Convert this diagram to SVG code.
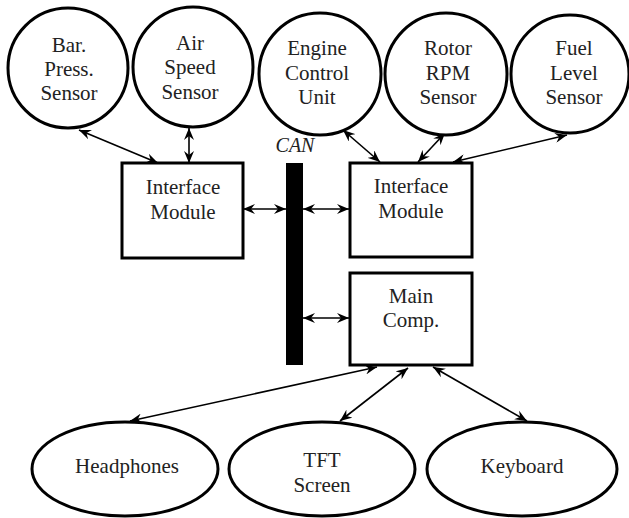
<svg xmlns="http://www.w3.org/2000/svg" width="629" height="518" viewBox="0 0 629 518">
<style>
.n{fill:#fff;stroke:#000;stroke-width:3}
text{font-family:'Liberation Serif','DejaVu Serif',serif;font-size:21px;fill:#222;text-anchor:middle}
.c{stroke:#000;stroke-width:1.6;fill:none;marker-start:url(#a);marker-end:url(#a)}
</style>
<defs>
<marker id="a" viewBox="0 0 12 10" refX="12" refY="5" markerWidth="12" markerHeight="10" markerUnits="userSpaceOnUse" orient="auto-start-reverse">
<path d="M0,0 L12,5 L0,10 L4,5 z" fill="#000"/>
</marker>
</defs>
<rect width="629" height="518" fill="#fff"/>
<g id="connectors">
<line class="c" x1="79" y1="130" x2="158" y2="163"/>
<line class="c" x1="189" y1="128" x2="189" y2="163"/>
<line class="c" x1="343" y1="130" x2="380" y2="162"/>
<line class="c" x1="445" y1="133" x2="418" y2="162"/>
<line class="c" x1="567" y1="135" x2="453" y2="162"/>
<line class="c" x1="243" y1="209" x2="286" y2="209"/>
<line class="c" x1="303" y1="209" x2="349" y2="209"/>
<line class="c" x1="303" y1="318" x2="349" y2="318"/>
<line class="c" x1="377" y1="367" x2="130" y2="421"/>
<line class="c" x1="408" y1="368" x2="340" y2="421"/>
<line class="c" x1="433" y1="367" x2="527" y2="421"/>
</g>
<g id="bar-press-sensor">
<circle class="n" cx="68" cy="68" r="60"/>
<text x="69" y="52">Bar.</text>
<text x="69" y="76">Press.</text>
<text x="69" y="100">Sensor</text>
</g>
<g id="air-speed-sensor">
<circle class="n" cx="193" cy="67" r="60"/>
<text x="190" y="50">Air</text>
<text x="190" y="74">Speed</text>
<text x="190" y="99">Sensor</text>
</g>
<g id="engine-control-unit">
<circle class="n" cx="320" cy="74" r="61"/>
<text x="317" y="55">Engine</text>
<text x="317" y="80">Control</text>
<text x="317" y="104">Unit</text>
</g>
<g id="rotor-rpm-sensor">
<circle class="n" cx="446" cy="74" r="61"/>
<text x="448" y="55">Rotor</text>
<text x="448" y="80">RPM</text>
<text x="448" y="104">Sensor</text>
</g>
<g id="fuel-level-sensor">
<circle class="n" cx="570" cy="74" r="59"/>
<text x="574" y="55">Fuel</text>
<text x="574" y="80">Level</text>
<text x="574" y="104">Sensor</text>
</g>
<g id="can-bus">
<rect x="286" y="163" width="17" height="202" fill="#000"/>
<text x="295" y="152" font-size="20" font-style="italic" style="font-size:20px;font-style:italic">CAN</text>
</g>
<g id="interface-module-left">
<rect class="n" x="122" y="163" width="121" height="95"/>
<text x="183" y="194">Interface</text>
<text x="183" y="219">Module</text>
</g>
<g id="interface-module-right">
<rect class="n" x="350" y="163" width="122" height="94"/>
<text x="411" y="193">Interface</text>
<text x="411" y="218">Module</text>
</g>
<g id="main-comp">
<rect class="n" x="350" y="273" width="122" height="92"/>
<text x="411" y="303">Main</text>
<text x="411" y="327">Comp.</text>
</g>
<g id="headphones">
<ellipse class="n" cx="125" cy="469" rx="93" ry="47"/>
<text x="127" y="473">Headphones</text>
</g>
<g id="tft-screen">
<ellipse class="n" cx="322" cy="469" rx="93" ry="47"/>
<text x="322" y="467">TFT</text>
<text x="322" y="492">Screen</text>
</g>
<g id="keyboard">
<ellipse class="n" cx="522" cy="469" rx="95" ry="47"/>
<text x="522" y="473">Keyboard</text>
</g>
</svg>
